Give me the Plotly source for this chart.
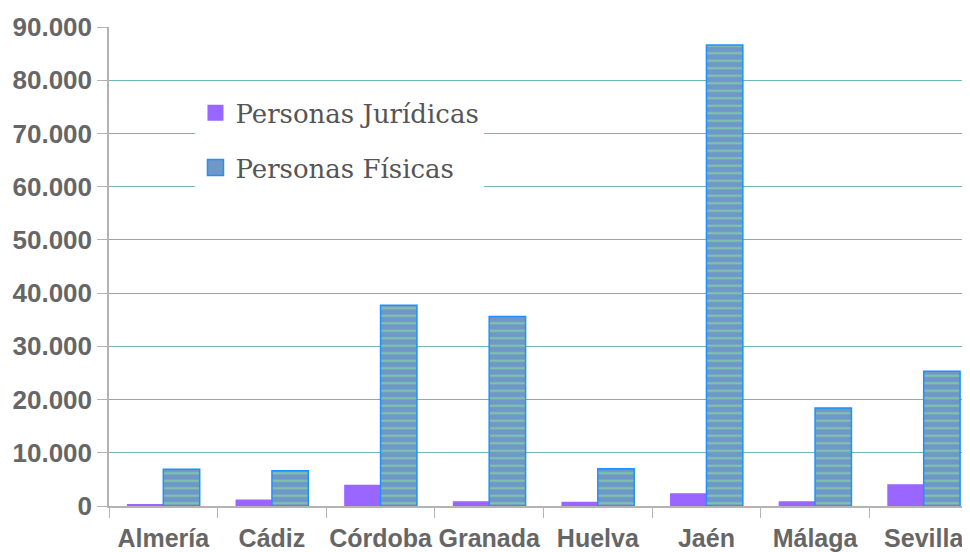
import plotly.graph_objects as go

categories = ["Almería", "Cádiz", "Córdoba", "Granada", "Huelva", "Jaén", "Málaga", "Sevilla"]
juridicas = [300, 1200, 4000, 900, 800, 2400, 900, 4100]
fisicas = [6900, 6600, 37700, 35600, 7000, 86600, 18400, 25300]
y_ticks = [0, 10000, 20000, 30000, 40000, 50000, 60000, 70000, 80000, 90000]

fig = go.Figure()
fig.add_trace(go.Bar(
    x=categories, y=juridicas, name="Personas Jurídicas", showlegend=False,
    marker=dict(color="#9966ff", line=dict(width=0)),
))
fig.add_trace(go.Bar(
    x=categories, y=fisicas, name="Personas Físicas", showlegend=False,
    marker=dict(
        color="#6f97c8",
        line=dict(color="#1e90ff", width=1.5),
        pattern=dict(shape="-", fgcolor="#90ee90", bgcolor="#6f97c8", size=7.5, solidity=0.3),
    ),
))
# legend entries
fig.add_trace(go.Scatter(
    x=[None], y=[None], mode="markers", name="Personas Jurídicas", legendgroup="a",
    marker=dict(symbol="square", size=20, color="#9966ff"),
))
fig.add_trace(go.Scatter(
    x=[None], y=[None], mode="markers", name="Personas Físicas", legendgroup="b",
    marker=dict(symbol="square", size=20, color="#6f97c8", line=dict(color="#1e90ff", width=1.5)),
))

fig.update_layout(
    width=970, height=552,
    margin=dict(l=101, r=0, t=19, b=54),
    barmode="group", bargap=0.33, bargroupgap=0,
    paper_bgcolor="white", plot_bgcolor="white",
    separators=",.",
    font=dict(family="Liberation Sans, Arial, sans-serif", color="#666666"),
    legend=dict(
        x=0.0995, y=0.87, xanchor="left", yanchor="top",
        bgcolor="white", borderwidth=0,
        font=dict(family="DejaVu Serif, Liberation Serif, serif", size=26, color="#555555"),
        itemsizing="trace", tracegroupgap=18, itemwidth=30,
    ),
    showlegend=True,
)
fig.update_xaxes(
    range=[-0.5, 7.5], automargin=False, tickangle=0, ticklabelstandoff=9,
    showgrid=False, showline=True, linecolor="#b3b3b3", linewidth=1.5,
    ticks="outside", tickson="boundaries", ticklen=10, tickcolor="#b3b3b3",
    tickfont=dict(size=25, color="#666666", family="Liberation Sans, Arial, sans-serif", weight="bold"),
)
fig.update_yaxes(
    range=[0, 90000], tickvals=y_ticks, tickformat=",d", automargin=False,
    showgrid=True, gridcolor="#6fb8b8", gridwidth=1,
    showline=True, linecolor="#b3b3b3", linewidth=1.5,
    zeroline=False,
    ticks="outside", ticklen=10, tickcolor="#b3b3b3",
    tickfont=dict(size=26, color="#666666", family="Liberation Sans, Arial, sans-serif", weight="bold"),
)

fig.write_html("out.html")
